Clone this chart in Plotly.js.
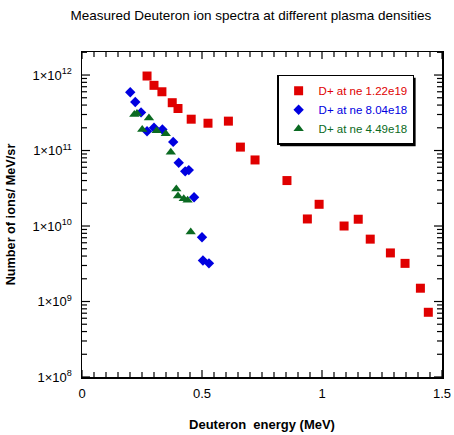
<!DOCTYPE html>
<html>
<head>
<meta charset="utf-8">
<script src="https://cdn.plot.ly/plotly-3.0.1.min.js"></script>
<style>html,body{margin:0;padding:0;background:#fff}#chart{width:454px;height:435px}</style>
</head>
<body>
<div id="chart"></div>
<script>
// Deuteron energy (MeV) and number of ions / MeV / sr
const redX = [0.271, 0.300, 0.333, 0.376, 0.400, 0.455, 0.525, 0.610, 0.660, 0.721, 0.854, 0.939, 0.988, 1.092, 1.151, 1.201, 1.285, 1.346, 1.410, 1.443];
const redY = [9.7e11, 7.3e11, 6.0e11, 4.3e11, 3.6e11, 2.6e11, 2.3e11, 2.45e11, 1.11e11, 7.5e10, 4.0e10, 1.24e10, 1.94e10, 1.0e10, 1.23e10, 6.7e9, 4.4e9, 3.2e9, 1.5e9, 7.2e8];
const blueX = [0.201, 0.222, 0.246, 0.271, 0.300, 0.335, 0.380, 0.403, 0.430, 0.445, 0.467, 0.500, 0.504, 0.529];
const blueY = [5.9e11, 4.4e11, 3.2e11, 1.8e11, 2.0e11, 1.9e11, 1.3e11, 6.9e10, 5.3e10, 5.5e10, 2.4e10, 7.1e9, 3.5e9, 3.2e9];
const greenX = [0.218, 0.229, 0.251, 0.279, 0.311, 0.349, 0.370, 0.393, 0.400, 0.424, 0.440, 0.453];
const greenY = [3.0e11, 3.1e11, 1.9e11, 2.7e11, 1.83e11, 1.67e11, 9.5e10, 3.1e10, 2.5e10, 2.3e10, 2.2e10, 8.3e9];
const seriesNames = ["D+ at ne 1.22e19", "D+ at ne 8.04e18", "D+ at ne 4.49e18"];
const colors = ["#e00000", "#0000e0", "#0b6a22"];
const xTickVals = [0, 0.5, 1, 1.5];
const xTickText = ["0", "0.5", "1", "1.5"];
const xMinorStep = 0.05;
const yTickVals = [1e8, 1e9, 1e10, 1e11, 1e12];
const yMinorMult = [2, 3, 4, 5, 6, 7, 8, 9];
const yTop = 12.305;

// tick positions (axis decoration)
const xMinorVals = [];
for (let k = 1; k * xMinorStep < 1.5 - 1e-9; k++) { const v = +(k * xMinorStep).toFixed(2); if (xTickVals.indexOf(v) < 0) xMinorVals.push(v); }
const yMinorVals = [];
yTickVals.forEach(d => yMinorMult.forEach(m => { const v = m * d; if (Math.log10(v) < yTop) yMinorVals.push(v); }));

const tickLine = {color: "#000", width: 1.2};
const shapes = [];
function xTick(v, len) {
  shapes.push({type: "line", layer: "above", xref: "x", yref: "paper", ysizemode: "pixel", yanchor: 0, x0: v, x1: v, y0: 0, y1: len, line: tickLine});
  shapes.push({type: "line", layer: "above", xref: "x", yref: "paper", ysizemode: "pixel", yanchor: 1, x0: v, x1: v, y0: 0, y1: -len, line: tickLine});
}
function yTick(v, len) {
  shapes.push({type: "line", layer: "above", yref: "y", xref: "paper", xsizemode: "pixel", xanchor: 0, y0: v, y1: v, x0: 0, x1: len, line: tickLine});
  shapes.push({type: "line", layer: "above", yref: "y", xref: "paper", xsizemode: "pixel", xanchor: 1, y0: v, y1: v, x0: 0, x1: -len, line: tickLine});
}
xTickVals.forEach(v => xTick(v, 7));
xMinorVals.forEach(v => xTick(v, 5));
yTickVals.forEach(v => yTick(v, 8));
yMinorVals.forEach(v => yTick(v, 5));

const traces = [
  {x: redX, y: redY, mode: "markers", type: "scatter", name: '<span style="color:' + colors[0] + '">' + seriesNames[0] + '</span>',
   marker: {symbol: "square", size: 9, color: colors[0]}},
  {x: blueX, y: blueY, mode: "markers", type: "scatter", name: '<span style="color:' + colors[1] + '">' + seriesNames[1] + '</span>',
   marker: {symbol: "diamond", size: 8, color: colors[1]}},
  {x: greenX, y: greenY, mode: "markers", type: "scatter", name: '<span style="color:' + colors[2] + '">' + seriesNames[2] + '</span>',
   marker: {symbol: "triangle-up", size: 9, color: colors[2]}}
];

const layout = {
  width: 454, height: 435,
  margin: {l: 82, r: 12, t: 52, b: 58},
  paper_bgcolor: "#fff", plot_bgcolor: "#fff",
  font: {family: "Liberation Sans, Arial, sans-serif", color: "#000", size: 13},
  showlegend: true,
  title: {text: "Measured Deuteron ion spectra at different plasma densities", font: {size: 13.5, color: "#000"},
          x: 0.469, xref: "paper", xanchor: "center", y: 0.965, yref: "container", yanchor: "middle"},
  xaxis: {
    range: [0, 1.5], tickmode: "array", tickvals: xTickVals, ticktext: xTickText, showgrid: false, zeroline: false,
    showline: true, linecolor: "#000", linewidth: 1.5, mirror: true, ticks: "",
    ticklabelstandoff: 4,
    title: {text: "<b>Deuteron&nbsp;&nbsp;energy (MeV)</b>", font: {size: 13}, standoff: 20}
  },
  yaxis: {
    type: "log", range: [8, yTop], tickmode: "array", tickvals: yTickVals, exponentformat: "power", showgrid: false, zeroline: false,
    showline: true, linecolor: "#000", linewidth: 1.5, mirror: true, ticks: "",
    ticklabelstandoff: 6,
    title: {text: "<b>Number of ions/ MeV/sr</b>", font: {size: 12.7}, standoff: 14}
  },
  legend: {
    x: 0.542, y: 0.93, xanchor: "left", yanchor: "top",
    bgcolor: "#fff", bordercolor: "#000", borderwidth: 1.5,
    font: {size: 11.5}
  },
  shapes: shapes
};

Plotly.newPlot("chart", traces, layout, {staticPlot: true, displayModeBar: false}).then(gd => {
  // drop shadow behind the legend box
  const leg = gd.querySelector("g.legend");
  const bg = leg && leg.querySelector("rect.bg");
  if (leg && bg) {
    const m = /translate\(([-\d.]+)[ ,]+([-\d.]+)\)/.exec(leg.getAttribute("transform") || "");
    const tx = m ? parseFloat(m[1]) : 0, ty = m ? parseFloat(m[2]) : 0;
    const w = parseFloat(bg.getAttribute("width")), h = parseFloat(bg.getAttribute("height"));
    const shadow = document.createElementNS("http://www.w3.org/2000/svg", "rect");
    shadow.setAttribute("x", tx + 3); shadow.setAttribute("y", ty + 3);
    shadow.setAttribute("width", w); shadow.setAttribute("height", h);
    shadow.setAttribute("fill", "#000");
    leg.parentNode.insertBefore(shadow, leg);
  }
});
</script>
</body>
</html>
